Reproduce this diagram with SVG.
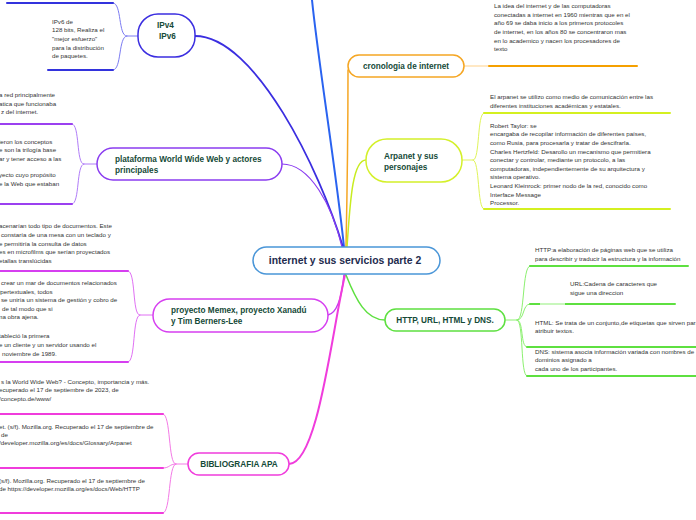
<svg xmlns="http://www.w3.org/2000/svg" width="696" height="520" viewBox="0 0 696 520">
<style>
.nt{font-family:"Liberation Sans",Arial,sans-serif;font-weight:bold;font-size:8.2px;fill:#154a38}
.ct{font-family:"Liberation Sans",Arial,sans-serif;font-weight:bold;font-size:10.4px;fill:#1e2b4e}
.st{font-family:"Liberation Sans",Arial,sans-serif;font-size:6.2px;fill:#333}
.box{fill:#fff;stroke-width:1.5}
.c{fill:none;stroke-linecap:round}
</style>
<rect width="696" height="520" fill="#fff"/>
<g id="connectors">
  <path class="c" d="M344,247 C336,170 318,60 312,0" stroke="#2a63f0" stroke-width="2"/>
  <path class="c" d="M195,36 C255,36 320,170 343,247" stroke="#3b2ee0" stroke-width="1.8"/>
  <path class="c" d="M282,164 C310,164 332,205 342,247" stroke="#8a3cf0" stroke-width="1.2"/>
  <path class="c" d="M346,247 C347,200 348,120 348,70" stroke="#f5a623" stroke-width="1.5"/>
  <path class="c" d="M347,247 C350,205 352,160 366,160" stroke="#c8ec20" stroke-width="1.5"/>
  <path class="c" d="M328,315 C338,313 342,295 344,275" stroke="#c43cf0" stroke-width="1.5"/>
  <path class="c" d="M289,464 C318,464 332,330 345,275" stroke="#f03cdc" stroke-width="2"/>
  <path class="c" d="M346,275 C356,300 366,320 385,320" stroke="#5ee040" stroke-width="1.5"/>
  <path class="c" d="M138,36 L127,36 C118,36 122,3 113,3 M127,36 C118,36 122,70 113,70" stroke="#7b7bf2" stroke-width="1"/>
  <path class="c" d="M7,3 H113 M48,70 H113" stroke="#3333dd" stroke-width="2"/>
  <path class="c" d="M97,164 L84,164 C76,164 80,124 72,124 M84,164 C76,164 80,204 72,204" stroke="#b07cf8" stroke-width="1"/>
  <path class="c" d="M-2,124 H72 M-2,204 H72" stroke="#9b40f0" stroke-width="2"/>
  <path class="c" d="M153,315 L140,315 C132,315 136,271 128,271 M140,315 C132,315 136,362 128,362" stroke="#e070f4" stroke-width="1"/>
  <path class="c" d="M-2,271 H128 M-2,362 H128" stroke="#d63ff0" stroke-width="2"/>
  <path class="c" d="M188,464 L176,464 C168,464 171,414 163,414 M176,464 C169,464 170,468 163,468 M176,464 C168,464 171,513 163,513" stroke="#f47ae6" stroke-width="1"/>
  <path class="c" d="M-2,414 H163 M-2,468 H163 M-2,513 H163" stroke="#f03cdc" stroke-width="2"/>
  <path class="c" d="M464,66 H489" stroke="#ffd28a" stroke-width="1.2"/>
  <path class="c" d="M489,66 H637" stroke="#f5a000" stroke-width="2"/>
  <path class="c" d="M462,160 L473,160 C480,160 477,113 484,113 M473,160 C480,160 477,209 484,209" stroke="#e0f45a" stroke-width="1"/>
  <path class="c" d="M484,113 H670 M484,209 H670" stroke="#d4f020" stroke-width="2"/>
  <path class="c" d="M505,320 L517,320 C525,320 522,266 530,266 M517,320 C525,320 522,304 530,304 M517,320 C524,320 520,347 527,347 M517,320 C524,320 520,376 527,376" stroke="#8cf070" stroke-width="1"/>
  <path class="c" d="M530,266 H688 M530,304 H675 M527,347 H698 M527,376 H698" stroke="#5ee040" stroke-width="2"/>
  <path d="M540,304 H565" stroke="#c8f7bc" stroke-width="2"/>
</g>
<g id="center">
  <rect class="box" x="253" y="247" width="187" height="27" rx="13.5" stroke="#4a96d8"/>
  <text class="ct" x="345" y="264" text-anchor="middle">internet y sus servicios parte 2</text>
</g>
<g id="ipv4">
  <rect class="box" x="138" y="14" width="57" height="43" rx="20" stroke="#3b2ee0"/>
  <text class="nt" x="165.5" y="28" text-anchor="middle">IPv4</text>
  <text class="nt" x="167.5" y="39" text-anchor="middle">IPv6</text>
</g>
<g id="ipv4-text" class="st">
  <text x="52" y="23.5">IPv6 de</text>
  <text x="52" y="32.2">128 bits, Realiza el</text>
  <text x="52" y="40.8">"mejor esfuerzo"</text>
  <text x="52" y="49.5">para la distribución</text>
  <text x="52" y="58">de paquetes.</text>
</g>
<g id="plataforma">
  <rect class="box" x="97" y="148" width="185" height="32" rx="16" stroke="#8a3cf0"/>
  <text class="nt" x="115" y="162">plataforma World Wide Web y actores</text>
  <text class="nt" x="115" y="173">principales</text>
</g>
<g id="plataforma-text" class="st">
  <text x="-1" y="97">a red principalmente</text>
  <text x="-1" y="106">atica que funcionaba</text>
  <text x="1" y="114">z del internet.</text>
  <text x="-1" y="143.7">ieron los conceptos</text>
  <text x="-1" y="152.4">e son la trilogía base</text>
  <text x="-1" y="161">ar y tener acceso a las</text>
  <text x="-1" y="177.4">yecto cuyo propósito</text>
  <text x="-1" y="185.6">e la Web que estaban</text>
</g>
<g id="memex">
  <rect class="box" x="153" y="299" width="175" height="33" rx="16.5" stroke="#d63ff0"/>
  <text class="nt" x="171" y="313">proyecto Memex, proyecto Xanadú</text>
  <text class="nt" x="171" y="324">y Tim Berners-Lee</text>
</g>
<g id="memex-text" class="st">
  <text x="-1" y="228.4">acenarían todo tipo de documentos. Este</text>
  <text x="1" y="237">constaría de una mesa con un teclado y</text>
  <text x="-1" y="245.6">e permitiría la consulta de datos</text>
  <text x="-1" y="254.2">es en microfilms que serían proyectados</text>
  <text x="-1" y="262.8">etallas translúcidas</text>
  <text x="1" y="285">crear un mar de documentos relacionados</text>
  <text x="-1" y="293.6">ipertextuales, todos</text>
  <text x="1" y="302.2">se uniría un sistema de gestión y cobro de</text>
  <text x="2" y="310.8">de tal modo que si</text>
  <text x="-1" y="319.4">na obra ajena.</text>
  <text x="-1" y="338.4">tableció la primera</text>
  <text x="-1" y="347.2">e un cliente y un servidor usando el</text>
  <text x="2" y="355.8">noviembre de 1989.</text>
</g>
<g id="bibliografia">
  <rect class="box" x="188" y="453" width="101" height="22" rx="11" stroke="#f03cdc"/>
  <text class="nt" x="239" y="467" text-anchor="middle">BIBLIOGRAFIA APA</text>
</g>
<g id="bibliografia-text" class="st">
  <text x="1" y="384">s la World Wide Web? - Concepto, importancia y más.</text>
  <text x="-1" y="392.4">ecuperado el 17 de septiembre de 2023, de</text>
  <text x="-1" y="400.8">/concepto.de/www/</text>
  <text x="-1" y="429">et. (s/f). Mozilla.org. Recuperado el 17 de septiembre de</text>
  <text x="1" y="437.2">de</text>
  <text x="-1" y="445.4">/developer.mozilla.org/es/docs/Glossary/Arpanet</text>
  <text x="-1" y="482.5">(s/f). Mozilla.org. Recuperado el 17 de septiembre de</text>
  <text x="-1" y="491">de https://developer.mozilla.org/es/docs/Web/HTTP</text>
</g>
<g id="cronologia">
  <rect class="box" x="348" y="55" width="116" height="22" rx="11" stroke="#f5a623"/>
  <text class="nt" x="406" y="69" text-anchor="middle">cronologia de internet</text>
</g>
<g id="cronologia-text" class="st">
  <text x="494" y="8">La idea del internet y de las computadoras</text>
  <text x="494" y="16.7">conectadas a internet en 1960 mientras que en el</text>
  <text x="494" y="25.3">año 69 se daba inicio a los primeros protocoles</text>
  <text x="494" y="34">de internet, en los años 80 se concentraron mas</text>
  <text x="494" y="42.6">en lo academico y nacen los procesadores de</text>
  <text x="494" y="51.2">texto</text>
</g>
<g id="arpanet">
  <rect class="box" x="366" y="139" width="96" height="43" rx="21" stroke="#d4f02a"/>
  <text class="nt" x="384" y="159">Arpanet y sus</text>
  <text class="nt" x="384" y="170">personajes</text>
</g>
<g id="arpanet-text" class="st">
  <text x="490" y="99">El arpanet se utilizo como medio de comunicación entre las</text>
  <text x="490" y="107.6">diferentes instituciones académicas y estatales.</text>
  <text x="490" y="127.8">Robert Taylor: se</text>
  <text x="490" y="136.4">encargaba de recopilar información de diferentes países,</text>
  <text x="490" y="145">como Rusia, para procesarla y tratar de descifrarla.</text>
  <text x="490" y="153.6">Charles Hertzfeld: Desarollo un mecanismo que permitiera</text>
  <text x="490" y="162.2">conectar y controlar, mediante un protocolo, a las</text>
  <text x="490" y="170.8">computadoras, independientemente de su arquitectura y</text>
  <text x="490" y="179.4">sistema operativo.</text>
  <text x="490" y="188">Leonard Kleinrock: primer nodo de la red, conocido como</text>
  <text x="490" y="196.6">Interface Message</text>
  <text x="490" y="205.2"> Processor.</text>
</g>
<g id="http">
  <rect class="box" x="385" y="309" width="120" height="22" rx="11" stroke="#5ee040"/>
  <text class="nt" x="445" y="323" text-anchor="middle">HTTP, URL, HTML y DNS.</text>
</g>
<g id="http-text" class="st">
  <text x="535" y="252">HTTP:a elaboración de páginas web que se utiliza</text>
  <text x="535" y="260.6">para describir y traducir la estructura y la información</text>
  <text x="570" y="286">URL:Cadena de caracteres que</text>
  <text x="570" y="295">sigue una direccion</text>
  <text x="535" y="324.5">HTML: Se trata de un conjunto,de etiquetas que sirven para</text>
  <text x="535" y="333">atribuir textos.</text>
  <text x="535" y="353.5">DNS: sistema asocia información variada con nombres de</text>
  <text x="535" y="362">dominios asignado a</text>
  <text x="535" y="370.5">cada uno de los participantes.</text>
</g>
</svg>
